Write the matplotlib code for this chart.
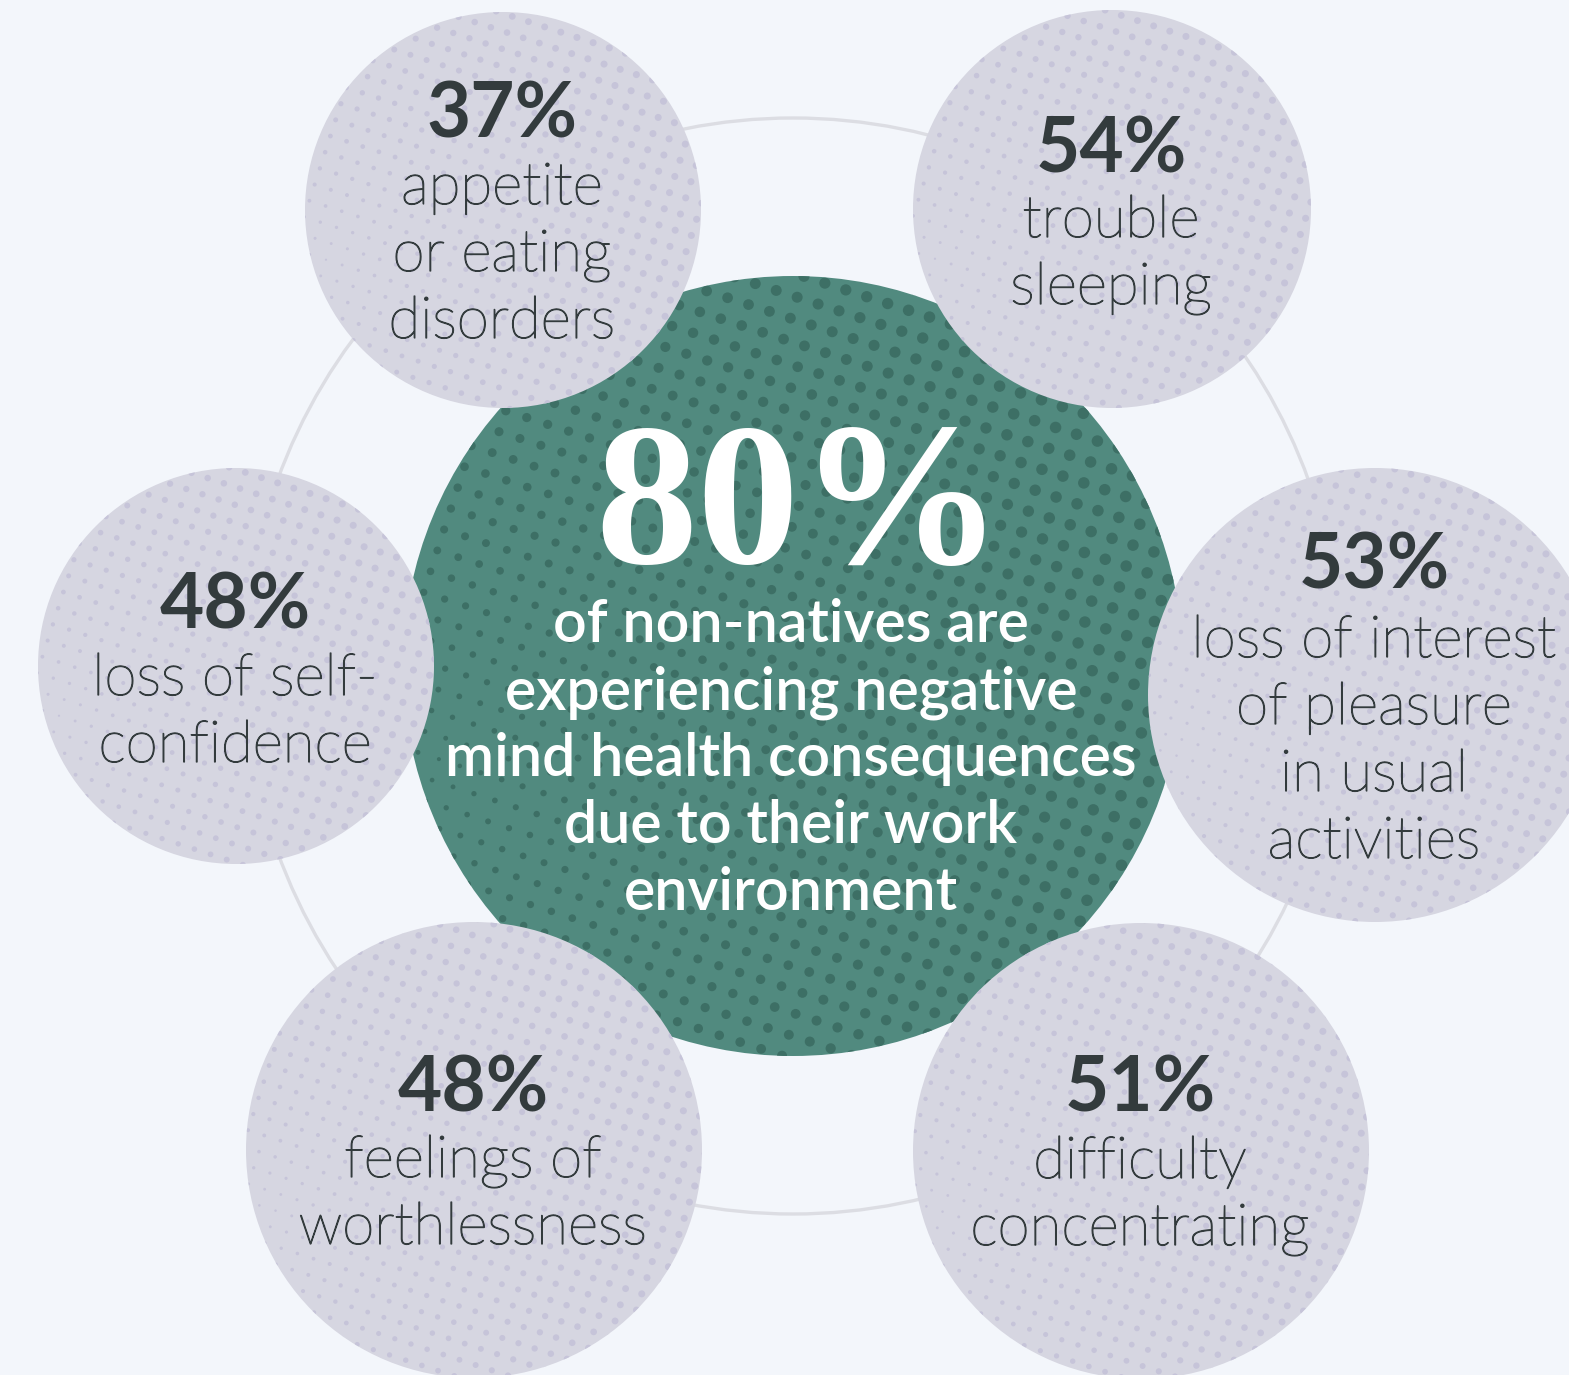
import numpy as np
import matplotlib
matplotlib.use("Agg")
import matplotlib.pyplot as plt
import matplotlib.patheffects as pe
from matplotlib.patches import Circle
from matplotlib.collections import EllipseCollection

# ---- content -------------------------------------------------------------
headline_value = "80%"
headline_lines = [
    "of non-natives are",
    "experiencing negative",
    "mind health consequences",
    "due to their work",
    "environment",
]

shares = [37, 54, 48, 53, 48, 51]
symptoms = [
    ["appetite", "or eating", "disorders"],
    ["trouble", "sleeping"],
    ["loss of self-", "confidence"],
    ["loss of interest", "of pleasure", "in usual", "activities"],
    ["feelings of", "worthlessness"],
    ["difficulty", "concentrating"],
]

# ---- layout (pixels, y grows downward) -----------------------------------
W, H = 1569, 1375
hub_xy, hub_r = (793, 666), 390
ring_r = 548
bubble_xy = [(503, 210), (1112, 209), (236, 666), (1375, 695), (474, 1150), (1141, 1151)]
bubble_r = [198, 199, 198, 227, 228, 228]
number_base = [137, 172, 628, 588, 1112, 1112]
label_base = [204, 237, 695, 657, 1177, 1178]
line_step = 67

BG = "#f3f6fb"
GREEN = "#518a7f"
GREEN_DOT = "#3d6f65"
GREY = "#d6d6e1"
GREY_DOT = "#c6c4d9"
RING = "#dcdde3"
INK = "#333b3d"

fig = plt.figure(figsize=(W / 100, H / 100), dpi=100, facecolor=BG)
ax = fig.add_axes([0, 0, 1, 1])
ax.set_xlim(0, W)
ax.set_ylim(H, 0)
ax.set_aspect("equal")
ax.axis("off")
ax.set_facecolor(BG)


def halftone(cx, cy, r, pitch, dmin, dmax, gamma, color, angle, z, clip):
    """Rotated dot grid whose dot size grows away from a soft spot at left."""
    th = np.deg2rad(angle)
    n = int(r / pitch) + 3
    k = np.arange(-n, n + 1) * pitch
    u, v = np.meshgrid(k, k)
    x = cx + u * np.cos(th) - v * np.sin(th)
    y = cy + u * np.sin(th) + v * np.cos(th)
    keep = (x - cx) ** 2 + (y - cy) ** 2 < (r + pitch) ** 2
    x, y = x[keep], y[keep]
    sx, sy = cx - 0.9 * r, cy + 0.25 * r
    t = np.hypot(x - sx, y - sy) / (1.7 * r)
    t = np.clip(t, 0, 1) ** gamma
    d = dmin + (dmax - dmin) * t
    coll = EllipseCollection(d, d, np.zeros_like(d), units="xy",
                             offsets=np.column_stack([x, y]),
                             offset_transform=ax.transData,
                             facecolors=color, edgecolors="none", zorder=z)
    ax.add_collection(coll)
    coll.set_clip_path(clip)


# connecting ring
ax.add_patch(Circle(hub_xy, ring_r, facecolor="none", edgecolor=RING, lw=2.4, zorder=1))

# central disc
hub = Circle(hub_xy, hub_r, facecolor=GREEN, edgecolor="none", zorder=2)
ax.add_patch(hub)
halftone(*hub_xy, hub_r, 22, 3.5, 11.5, 0.55, GREEN_DOT, 18, 2.1, hub)

ax.text(hub_xy[0] + 6, 563, headline_value, ha="center", va="baseline",
        fontsize=147, fontweight="bold", family="Liberation Serif",
        color="white", zorder=6)
for i, line in enumerate(headline_lines):
    ax.text(hub_xy[0] - 2, 642 + i * line_step, line, ha="center", va="baseline",
            fontsize=42.5, fontweight="semibold", family="Lato",
            color="white", zorder=6)

# light labels get a hairline outline so the strokes sit between Light and Regular
label_fx = [pe.withStroke(linewidth=0.9, foreground=INK)]

# symptom bubbles
for (cx, cy), r, val, lines, nb, lb in zip(bubble_xy, bubble_r, shares, symptoms,
                                            number_base, label_base):
    b = Circle((cx, cy), r, facecolor=GREY, edgecolor="none", zorder=3)
    ax.add_patch(b)
    halftone(cx, cy, r, 17, 2.0, 7.0, 0.6, GREY_DOT, 18, 3.1, b)
    ax.text(cx - 1, nb, f"{val}%", ha="center", va="baseline", fontsize=55,
            fontweight="bold", family="Lato", color=INK, zorder=6)
    for j, line in enumerate(lines):
        ax.text(cx - 1, lb + j * line_step, line, ha="center", va="baseline",
                fontsize=42, fontweight="light", family="Lato", color=INK,
                path_effects=label_fx, zorder=6)

fig.savefig("out.png", dpi=100, facecolor=BG)
